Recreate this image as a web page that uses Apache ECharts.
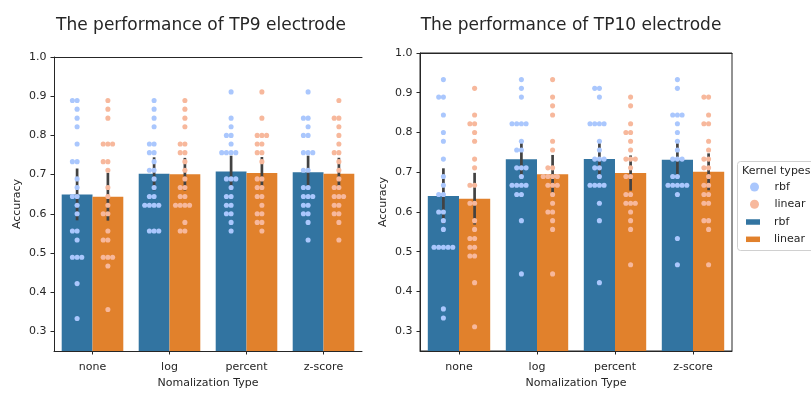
<!DOCTYPE html>
<html>
<head>
<meta charset="utf-8">
<script src="https://cdn.jsdelivr.net/npm/echarts@6/dist/echarts.min.js"></script>
<style>
  html, body { margin: 0; padding: 0; background: #ffffff; }
  #chart { width: 811px; height: 394px; }
</style>
</head>
<body>
<div id="chart"></div>
<script>
// Normalization methods on the x axis and kernel types
const categories = ['none', 'log', 'percent', 'z-score'];
const kernels = ['rbf', 'linear'];
const yTicks = [0.3, 0.4, 0.5, 0.6, 0.7, 0.8, 0.9, 1.0];

// TP9 electrode: per-fold accuracies
const tp9NoneRbf = [0.889,0.889,0.867,0.844,0.822,0.778,0.733,0.733,0.689,0.667,0.644,0.644,0.622,0.600,0.556,0.556,0.533,0.489,0.489,0.489,0.422,0.333];
const tp9NoneLinear = [0.889,0.867,0.844,0.778,0.778,0.778,0.733,0.733,0.711,0.667,0.644,0.622,0.600,0.600,0.556,0.533,0.533,0.489,0.489,0.489,0.467,0.356];
const tp9LogRbf = [0.889,0.867,0.844,0.822,0.778,0.778,0.756,0.756,0.733,0.711,0.711,0.689,0.667,0.644,0.644,0.622,0.622,0.622,0.622,0.556,0.556,0.556];
const tp9LogLinear = [0.889,0.867,0.844,0.822,0.778,0.778,0.756,0.756,0.733,0.711,0.689,0.667,0.667,0.644,0.644,0.622,0.622,0.622,0.622,0.578,0.556,0.556];
const tp9PercentRbf = [0.911,0.844,0.822,0.800,0.800,0.778,0.756,0.756,0.756,0.756,0.689,0.689,0.689,0.667,0.644,0.644,0.622,0.622,0.600,0.600,0.578,0.556];
const tp9PercentLinear = [0.911,0.844,0.800,0.800,0.800,0.778,0.778,0.756,0.756,0.733,0.689,0.689,0.667,0.667,0.644,0.644,0.622,0.600,0.600,0.578,0.578,0.556];
const tp9ZscoreRbf = [0.911,0.844,0.844,0.822,0.800,0.800,0.756,0.756,0.756,0.711,0.711,0.667,0.667,0.644,0.644,0.644,0.622,0.622,0.600,0.600,0.578,0.533];
const tp9ZscoreLinear = [0.889,0.844,0.844,0.822,0.800,0.778,0.756,0.756,0.733,0.711,0.689,0.667,0.667,0.644,0.644,0.644,0.622,0.622,0.600,0.600,0.578,0.533];

// TP10 electrode: per-fold accuracies
const tp10NoneRbf = [0.933,0.889,0.889,0.844,0.800,0.778,0.733,0.689,0.667,0.644,0.644,0.600,0.600,0.578,0.556,0.511,0.511,0.511,0.511,0.511,0.356,0.333];
const tp10NoneLinear = [0.911,0.844,0.822,0.822,0.800,0.778,0.733,0.711,0.667,0.667,0.622,0.622,0.578,0.556,0.533,0.533,0.511,0.511,0.489,0.489,0.422,0.311];
const tp10LogRbf = [0.933,0.911,0.889,0.822,0.822,0.822,0.822,0.778,0.756,0.756,0.711,0.711,0.711,0.689,0.667,0.667,0.667,0.667,0.644,0.644,0.578,0.444];
const tp10LogLinear = [0.933,0.889,0.867,0.844,0.778,0.756,0.711,0.711,0.689,0.689,0.689,0.689,0.667,0.667,0.667,0.644,0.622,0.600,0.600,0.578,0.556,0.444];
const tp10PercentRbf = [0.911,0.911,0.889,0.822,0.822,0.822,0.822,0.778,0.756,0.733,0.733,0.733,0.711,0.711,0.689,0.667,0.667,0.667,0.667,0.622,0.578,0.422];
const tp10PercentLinear = [0.889,0.867,0.822,0.800,0.800,0.778,0.756,0.733,0.733,0.733,0.711,0.689,0.689,0.644,0.644,0.622,0.622,0.622,0.600,0.578,0.556,0.467];
const tp10ZscoreRbf = [0.933,0.911,0.844,0.844,0.844,0.822,0.800,0.778,0.756,0.733,0.733,0.733,0.689,0.689,0.667,0.667,0.667,0.667,0.667,0.644,0.533,0.467];
const tp10ZscoreLinear = [0.889,0.889,0.844,0.822,0.822,0.778,0.756,0.733,0.733,0.711,0.711,0.689,0.667,0.667,0.644,0.644,0.622,0.622,0.578,0.578,0.556,0.467];

const panels = [
  {
    title: 'The performance of TP9 electrode',
    titleX: 201,
    grid: { left: 54, top: 57, width: 308, height: 302 },
    box: false,
    groups: {
      rbf: [tp9NoneRbf, tp9LogRbf, tp9PercentRbf, tp9ZscoreRbf],
      linear: [tp9NoneLinear, tp9LogLinear, tp9PercentLinear, tp9ZscoreLinear]
    }
  },
  {
    title: 'The performance of TP10 electrode',
    titleX: 571,
    grid: { left: 420, top: 53, width: 312, height: 304 },
    box: true,
    groups: {
      rbf: [tp10NoneRbf, tp10LogRbf, tp10PercentRbf, tp10ZscoreRbf],
      linear: [tp10NoneLinear, tp10LogLinear, tp10PercentLinear, tp10ZscoreLinear]
    }
  }
];

const Y_MIN = 0.25, Y_MAX = 1.0;
const barColors = { rbf: '#3274a1', linear: '#e1812c' };
const dotColors = { rbf: '#aac7fd', linear: '#f7b89c' };
const ink = '#262626';
const FONT = 'DejaVu Sans';
const DOT_D = 4.7;   // swarm slot spacing
const DOT_R = 2.55;  // drawn dot radius

const mean = a => a.reduce((s, v) => s + v, 0) / a.length;
function ci95(a) {
  const m = mean(a);
  const sd = Math.sqrt(a.reduce((s, v) => s + (v - m) * (v - m), 0) / (a.length - 1));
  const h = 1.96 * sd / Math.sqrt(a.length);
  return [m - h, m + h];
}

// Beeswarm: place points in value order, nearest free horizontal slot (left first on ties)
function swarmOffsets(values, pxPerUnit, d) {
  const order = values.map((v, i) => i).sort((a, b) => values[a] - values[b]);
  const placed = [];
  const out = new Array(values.length);
  for (const i of order) {
    const y = values[i] * pxPerUnit;
    const cands = [0];
    for (const p of placed) {
      const dy = y - p.y;
      if (Math.abs(dy) < d) {
        const dx = Math.sqrt(d * d - dy * dy);
        cands.push(p.x - dx, p.x + dx);
      }
    }
    cands.sort((a, b) => Math.abs(a) - Math.abs(b) || a - b);
    let x = 0;
    for (const c of cands) {
      if (placed.every(p => (p.x - c) ** 2 + (p.y - y) ** 2 >= d * d - 1e-6)) { x = c; break; }
    }
    placed.push({ x, y });
    out[i] = x;
  }
  return out;
}

const grids = [], xAxes = [], yAxes = [], series = [], graphics = [];

panels.forEach((panel, pi) => {
  grids.push(Object.assign({
    show: panel.box, borderColor: ink, borderWidth: 1, backgroundColor: 'transparent'
  }, panel.grid));

  xAxes.push({
    type: 'category', gridIndex: pi, data: categories,
    name: 'Nomalization Type', nameLocation: 'middle', nameGap: 27,
    nameTextStyle: { fontFamily: FONT, fontSize: 11, color: ink },
    axisLine: { show: true, lineStyle: { color: ink, width: 1 } },
    axisTick: { show: true, alignWithLabel: true, length: 3.5, lineStyle: { color: ink } },
    axisLabel: { fontFamily: FONT, fontSize: 11, color: ink, margin: 11 },
    splitLine: { show: false }
  });
  // top spine
  xAxes.push({
    type: 'category', gridIndex: pi, data: categories, position: 'top',
    axisLine: { show: true, lineStyle: { color: ink, width: 1 } },
    axisTick: { show: false }, axisLabel: { show: false }, splitLine: { show: false }
  });

  yAxes.push({
    type: 'value', gridIndex: pi, min: Y_MIN, max: Y_MAX,
    name: 'Accuracy', nameLocation: 'middle', nameGap: 31,
    nameTextStyle: { fontFamily: FONT, fontSize: 11, color: ink },
    axisLine: { show: true, lineStyle: { color: ink, width: 1 } },
    axisTick: { show: true, length: 3.5, customValues: yTicks, lineStyle: { color: ink } },
    axisLabel: {
      fontFamily: FONT, fontSize: 11, color: ink, margin: 7.5,
      customValues: yTicks, formatter: v => v.toFixed(1)
    },
    splitLine: { show: false }
  });

  const xIdx = pi * 2;
  const pxPerUnit = panel.grid.height / (Y_MAX - Y_MIN);

  kernels.forEach((k, ki) => {
    const side = ki === 0 ? -1 : 1;
    const sets = panel.groups[k];

    series.push({
      name: k + ' bars', type: 'bar', xAxisIndex: xIdx, yAxisIndex: pi,
      data: sets.map(mean),
      barGap: '0%', barCategoryGap: '20%',
      itemStyle: { color: barColors[k] },
      z: 2, silent: true
    });

    series.push({
      name: k + ' ci', type: 'custom', xAxisIndex: xIdx, yAxisIndex: pi,
      data: sets.map((s, ci) => { const c = ci95(s); return [ci, c[0], c[1]]; }),
      renderItem: (params, api) => {
        const band = api.size([1, 0])[0];
        const lo = api.coord([api.value(0), api.value(1)]);
        const hi = api.coord([api.value(0), api.value(2)]);
        const x = lo[0] + side * band * 0.2;
        return {
          type: 'line',
          shape: { x1: x, y1: lo[1], x2: x, y2: hi[1] },
          style: { stroke: '#424242', lineWidth: 2.7 }
        };
      },
      z: 3, silent: true
    });

    const pts = [];
    sets.forEach((s, ci) => {
      const off = swarmOffsets(s, pxPerUnit, DOT_D);
      s.forEach((v, j) => pts.push([ci, v, off[j]]));
    });
    series.push({
      name: k, type: 'custom', xAxisIndex: xIdx, yAxisIndex: pi,
      itemStyle: { color: dotColors[k] },
      data: pts,
      renderItem: (params, api) => {
        const band = api.size([1, 0])[0];
        const c = api.coord([api.value(0), api.value(1)]);
        return {
          type: 'circle',
          shape: { cx: c[0] + side * band * 0.2 + api.value(2), cy: c[1], r: DOT_R },
          style: { fill: dotColors[k] }
        };
      },
      z: 4, silent: true
    });
  });

  graphics.push({
    type: 'text', x: panel.titleX, y: 26, silent: true,
    style: { text: panel.title, fill: ink, font: '17px "' + FONT + '"', align: 'center', verticalAlign: 'middle' }
  });
});

// legend frame and title
graphics.push({
  type: 'rect', shape: { x: 737.5, y: 161.5, width: 90, height: 89, r: 3 }, z: -1,
  style: { fill: '#ffffff', stroke: '#d0d0d0', lineWidth: 1 }
});
graphics.push({
  type: 'text', x: 742, y: 171,
  style: { text: 'Kernel types', fill: ink, font: '11px "' + FONT + '"', align: 'left', verticalAlign: 'middle' }
});

const legendText = { fontFamily: FONT, fontSize: 11, color: ink, lineHeight: 12 };
const option = {
  animation: false,
  backgroundColor: '#ffffff',
  grid: grids,
  xAxis: xAxes,
  yAxis: yAxes,
  series: series,
  graphic: graphics,
  legend: [
    {
      orient: 'vertical', left: 750, top: 181, padding: 0, itemGap: 5.3,
      itemWidth: 14, itemHeight: 9, selectedMode: false,
      data: kernels.map(k => ({ name: k, icon: 'circle' })),
      textStyle: Object.assign({ padding: [0, 0, 0, 8] }, legendText)
    },
    {
      orient: 'vertical', left: 746, top: 216, padding: 0, itemGap: 5.3,
      itemWidth: 14, itemHeight: 9, selectedMode: false,
      data: kernels.map(k => ({ name: k + ' bars', icon: 'path://M0,0H14V5.5H0Z', itemStyle: { color: barColors[k] } })),
      formatter: n => n.replace(' bars', ''),
      textStyle: Object.assign({ padding: [0, 0, 0, 9] }, legendText)
    }
  ]
};

const chart = echarts.init(document.getElementById('chart'), null, { renderer: 'canvas' });
chart.setOption(option);
</script>
</body>
</html>
